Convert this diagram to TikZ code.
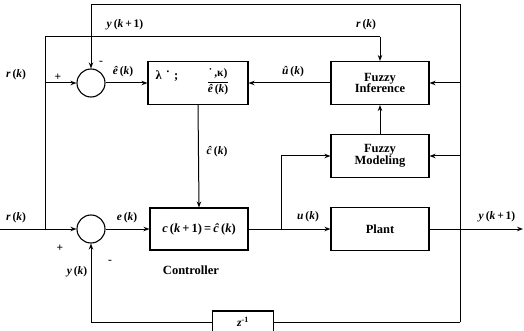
\documentclass[tikz,border=0pt]{standalone}
\usepackage{fontspec}
\setmainfont{Liberation Serif}
\usetikzlibrary{arrows.meta}
\newcommand{\bi}[1]{\textbf{\textit{#1}}}
\tikzset{
  x=1pt,y=-1pt,
  every node/.style={font=\fontsize{11.5}{12}\selectfont\bfseries},
  blk/.style={draw,line width=1.1pt,rectangle,minimum width=98pt,minimum height=43pt,inner sep=0pt,align=center,font=\fontsize{12.5}{11.5}\selectfont\bfseries},
  sumc/.style={draw,line width=1.1pt,circle,minimum size=28pt,inner sep=0pt},
  ln/.style={line width=1pt},
  arr/.style={ln,-{Stealth[length=6pt,width=4.5pt]}},
  oarr/.style={ln,-{Stealth[open,length=6pt,width=4.5pt]}},
  lbl/.style={inner sep=0pt}
}
\begin{document}
\begin{tikzpicture}
\useasboundingbox (0,0) rectangle (524,331);
% blocks
\node[sumc] (sumA) at (91,83) {};
\node[blk,minimum width=100pt] (lam) at (198,83) {};
\node[blk] (finf) at (380,83) {Fuzzy\\Inference};
\node[blk] (fmod) at (380,156) {Fuzzy\\Modeling};
\node[sumc] (sumB) at (91,229) {};
\node[blk,minimum height=42pt] (ctrl) at (199,229) {\bi{c}\,(\bi{k}\,+\,1)\,=\,\bi{ĉ}\,(\bi{k})};
\node[blk] (plant) at (380,229) {Plant};
\node[draw,line width=1.1pt,minimum width=61pt,minimum height=22pt,inner sep=0pt] (zd) at (243,322) {\bi{z}\textsuperscript{-1}};
% lambda block content
\node[lbl] (lamt) at (167,76) {\fontsize{12.5}{12}\selectfont λ\,\,˙\,\,;};
\node[lbl] (frac) at (218,82) {$\displaystyle\frac{\hbox{\bfseries\fontsize{11.5}{12}\selectfont ˙\,,κ)}}{\hbox{\fontsize{11.5}{12}\selectfont\bi{ê}\,(\bi{k})}}$};
% coordinates
\coordinate (in) at (0,229);
\coordinate (j1) at (45,229);
\coordinate (j1a) at (45,83);
\coordinate (j1t) at (45,37);
\coordinate (rtop) at (380,37);
\coordinate (ju) at (281,229);
\coordinate (jut) at (281,156);
\coordinate (rv) at (460,229);
\coordinate (rvt) at (460,5);
\coordinate (rvb) at (460,322);
\coordinate (lt) at (91,5);
\coordinate (lb) at (91,322);
\coordinate (out) at (523,229);
% connectors
\draw[arr] (in) -- (sumB.west);
\draw[ln] (j1) -- (j1t) -- (rtop);
\draw[arr] (rtop) -- (finf.north);
\draw[arr] (j1a) -- (sumA.west);
\draw[ln] (rvb) -- (rvt) -- (lt);
\draw[arr] (lt) -- (sumA.north);
\draw[arr] (sumA.east) -- (lam.west);
\draw[arr] (finf.west) -- (lam.east);
\draw[arr] (lam.south) -- (ctrl.north);
\draw[arr] (sumB.east) -- (ctrl.west);
\draw[arr] (ctrl.east) -- (plant.west);
\draw[ln] (ju) -- (jut);
\draw[arr] (jut) -- (fmod.west);
\draw[arr] (fmod.north) -- (finf.south);
\draw[arr] (rvt |- finf.east) -- (finf.east);
\draw[arr] (rvt |- fmod.east) -- (fmod.east);
\draw[oarr] (plant.east) -- (out);
\draw[ln] (rvb) -- (zd.east);
\draw[ln] (zd.west) -- (lb);
\draw[arr] (lb) -- (sumB.south);
% labels
\node[lbl] (l1) at (125,25) {\bi{y}\,(\bi{k}\,+\,1)};
\node[lbl] (l2) at (101,63) {-};
\node[lbl] (l3) at (16,75) {\bi{r}\,(\bi{k})};
\node[lbl] (l4) at (58,77) {+};
\node[lbl] (l5) at (123,72) {\bi{ê}\,(\bi{k})};
\node[lbl] (l6) at (366,25) {\bi{r}\,(\bi{k})};
\node[lbl] (l7) at (293,72) {\bi{û}\,(\bi{k})};
\node[lbl] (l8) at (217,152) {\bi{ĉ}\,(\bi{k})};
\node[lbl] (l9) at (16,218) {\bi{r}\,(\bi{k})};
\node[lbl] (l10) at (127,218) {\bi{e}\,(\bi{k})};
\node[lbl] (l11) at (60,248) {+};
\node[lbl] (l12) at (110,262) {-};
\node[lbl] (l13) at (77,272) {\bi{y}\,(\bi{k})};
\node[lbl,font=\fontsize{12.5}{12}\selectfont\bfseries] (l14) at (191,270) {Controller};
\node[lbl] (l15) at (308,217) {\bi{u}\,(\bi{k})};
\node[lbl] (l16) at (497,217) {\bi{y}\,(\bi{k}\,+\,1)};
\end{tikzpicture}
\end{document}
